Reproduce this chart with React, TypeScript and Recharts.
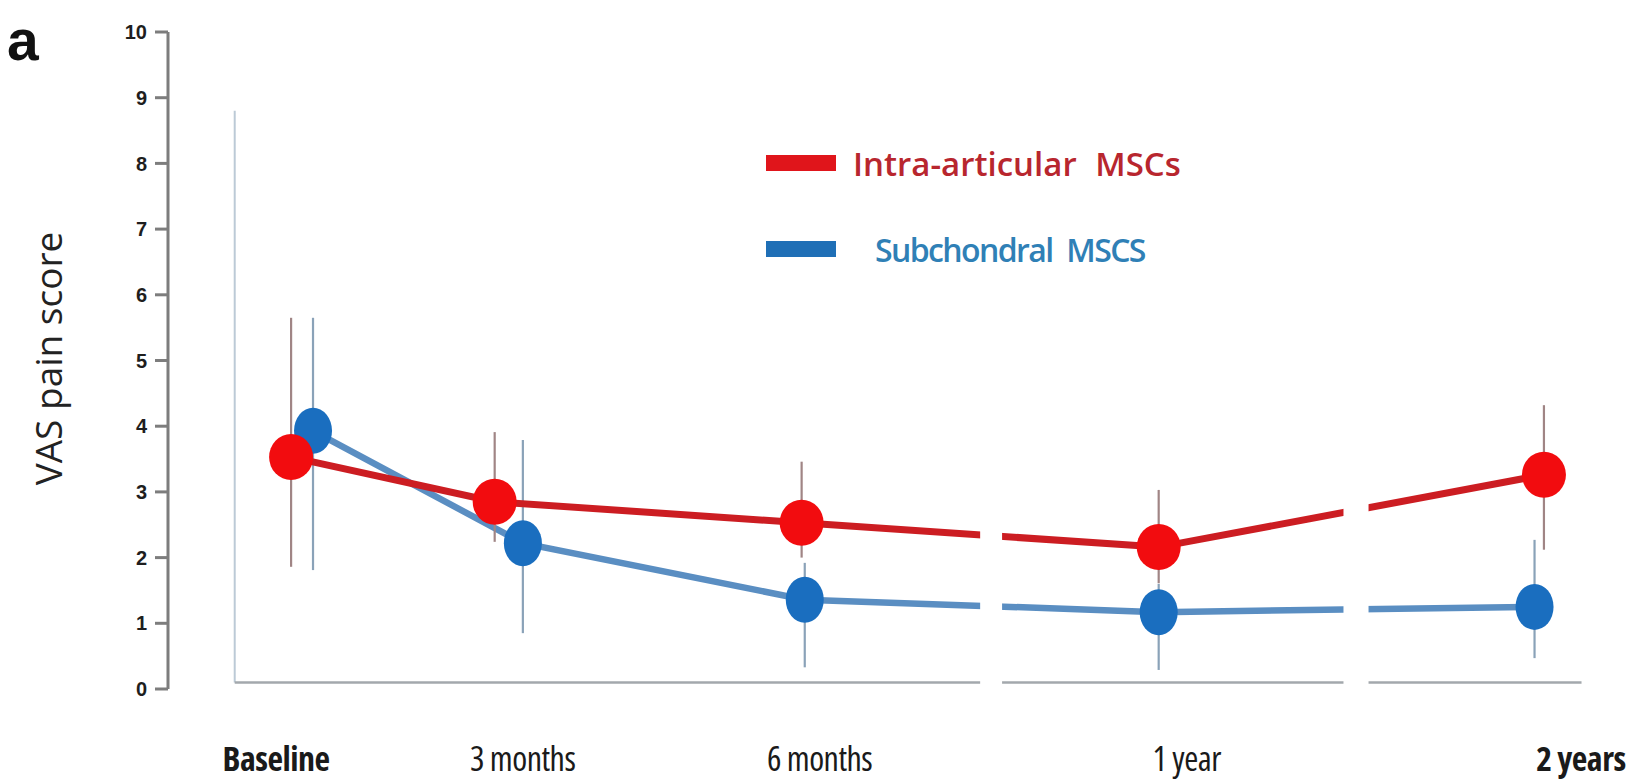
import React from 'react';
import {
  ComposedChart,
  Line,
  XAxis,
  YAxis,
  ErrorBar,
  ReferenceLine,
  ReferenceArea,
  Legend,
} from 'recharts';

// ---------------- data ----------------
const categories = ['Baseline', '3 months', '6 months', '1 year', '2 years'];
const boldCategories = ['Baseline', '2 years'];
const seriesNames = ['Intra-articular MSCs', 'Subchondral MSCS'];

// position of each time point on the (broken) time axis
const intraX = [0, 0.65, 1.63, 2.77, 4.0];
const subX = [0.07, 0.74, 1.64, 2.77, 3.97];

const intraMean = [3.53, 2.85, 2.53, 2.16, 3.26];
const intraLow = [1.86, 2.24, 2.0, 1.61, 2.12];
const intraHigh = [5.65, 3.91, 3.46, 3.03, 4.32];

const subMean = [3.93, 2.22, 1.36, 1.17, 1.25];
const subLow = [1.81, 0.85, 0.33, 0.29, 0.47];
const subHigh = [5.65, 3.79, 1.92, 1.6, 2.27];

const yTicks = [0, 1, 2, 3, 4, 5, 6, 7, 8, 9, 10];

// axis breaks (in time-axis units)
const axisBreaks: [number, number][] = [
  [2.2, 2.27],
  [3.36, 3.44],
];

// ---------------- styling constants ----------------
const X_DOMAIN: [number, number] = [-0.393, 4.179];
const FRAME_LEFT = -0.18;
const FRAME_RIGHT = 4.12;
const FRAME_TOP = 8.8;
const FRAME_BASE = 0.1;
const LABEL_SHIFT = [-15, 28, 18, 28, 37];

const RED_LINE = '#cc1d22';
const RED_DOT = '#f20c0f';
const RED_BAR = '#a08585';
const BLUE_LINE = '#5a8ec2';
const BLUE_DOT = '#1a6ebf';
const BLUE_BAR = '#8aa2b8';

const seriesStyle: Record<string, { bar: string; text: string; indent: number; fs: number; ls: number; ws: number }> = {
  'Intra-articular MSCs': { bar: '#e0151b', text: '#b8262e', indent: 0, fs: 33, ls: 0, ws: 10 },
  'Subchondral MSCS': { bar: '#1f6fb6', text: '#2f80b6', indent: 22, fs: 32, ls: -1.6, ws: 7 },
};

const build = (xs: number[], mean: number[], low: number[], high: number[]) =>
  categories.map((c, i) => ({
    name: c,
    x: xs[i],
    y: mean[i],
    err: [+(mean[i] - low[i]).toFixed(3), +(high[i] - mean[i]).toFixed(3)],
  }));

const intraData = build(intraX, intraMean, intraLow, intraHigh);
const subData = build(subX, subMean, subLow, subHigh);

const XTick = (props: any) => {
  const { x, y, payload } = props;
  const idx = intraX.indexOf(payload.value);
  const label = categories[idx] ?? '';
  const bold = boldCategories.includes(label);
  return (
    <text
      x={x + (LABEL_SHIFT[idx] ?? 0)}
      y={y + 82}
      textAnchor="middle"
      fontFamily="Open Sans"
      fontSize={34}
      fontWeight={bold ? 700 : 500}
      fill="#1a1a1a"
      style={{ fontStretch: 'semi-condensed', letterSpacing: '-0.5px' }}
    >
      {label}
    </text>
  );
};

const YTitle = (props: any) => {
  const vb = props.viewBox || { y: 32, height: 657 };
  const cy = vb.y + vb.height / 2 - 2;
  const cx = 47;
  return (
    <text
      x={cx}
      y={cy}
      transform={`rotate(-90, ${cx}, ${cy})`}
      textAnchor="middle"
      dominantBaseline="central"
      fontFamily="Open Sans"
      fontSize={37}
      fill="#222"
    >
      VAS pain score
    </text>
  );
};

const makeDot = (fill: string, rx: number, ry: number) => (p: any) => {
  if (p.cx == null || p.cy == null) return <g key={`n${p.index}`} />;
  return <ellipse key={`d${p.index}`} cx={p.cx} cy={p.cy} rx={rx} ry={ry} fill={fill} />;
};

const LegendBox = () => (
  <div style={{ fontFamily: 'Open Sans' }}>
    {seriesNames.map((n) => {
      const s = seriesStyle[n];
      return (
        <div key={n} style={{ display: 'flex', alignItems: 'center', height: 86 }}>
          <div style={{ width: 70, height: 16, background: s.bar }} />
          <div
            style={{
              marginLeft: 17 + s.indent,
              color: s.text,
              fontSize: s.fs,
              fontWeight: 600,
              letterSpacing: s.ls,
              wordSpacing: s.ws,
              whiteSpace: 'nowrap',
            }}
          >
            {n}
          </div>
        </div>
      );
    })}
  </div>
);

export default function App() {
  return (
    <div style={{ position: 'absolute', left: 0, top: 0, width: 1650, height: 783, background: '#fff' }}>
      <div
        style={{
          position: 'absolute',
          left: 7,
          top: 12,
          fontFamily: 'Liberation Sans',
          fontWeight: 700,
          fontSize: 57,
          lineHeight: '57px',
          color: '#111',
          zIndex: 2,
        }}
      >
        a
      </div>
      <ComposedChart
        width={1650}
        height={783}
        margin={{ top: 32, right: 50, bottom: 64, left: 100 }}
      >
        <XAxis
          type="number"
          dataKey="x"
          domain={X_DOMAIN}
          allowDataOverflow
          ticks={intraX}
          interval={0}
          tick={<XTick />}
          axisLine={false}
          tickLine={false}
          tickSize={0}
          tickMargin={0}
          height={30}
        />
        <YAxis
          type="number"
          domain={[0, 10]}
          ticks={yTicks}
          interval={0}
          width={68}
          tickSize={13}
          tickMargin={8}
          axisLine={{ stroke: '#7d7d7d', strokeWidth: 3 }}
          tickLine={{ stroke: '#7d7d7d', strokeWidth: 3 }}
          tick={{ fontSize: 20, fontWeight: 700, fill: '#1e1e1e', fontFamily: 'Liberation Sans' }}
          label={{ value: 'VAS pain score', content: YTitle }}
        />
        <ReferenceLine
          segment={[
            { x: FRAME_LEFT, y: FRAME_BASE },
            { x: FRAME_LEFT, y: FRAME_TOP },
          ]}
          stroke="#bccad6"
          strokeWidth={2}
        />
        <ReferenceLine
          segment={[
            { x: FRAME_LEFT, y: FRAME_BASE },
            { x: FRAME_RIGHT, y: FRAME_BASE },
          ]}
          stroke="#a3a8ad"
          strokeWidth={2.5}
        />
        <Line
          name={seriesNames[1]}
          data={subData}
          dataKey="y"
          type="linear"
          stroke={BLUE_LINE}
          strokeWidth={6.5}
          dot={makeDot(BLUE_DOT, 19, 23)}
          activeDot={false}
          isAnimationActive={false}
        >
          <ErrorBar dataKey="err" direction="y" width={0} stroke={BLUE_BAR} strokeWidth={2.2} />
        </Line>
        <Line
          name={seriesNames[0]}
          data={intraData}
          dataKey="y"
          type="linear"
          stroke={RED_LINE}
          strokeWidth={7}
          dot={makeDot(RED_DOT, 22, 23)}
          activeDot={false}
          isAnimationActive={false}
        >
          <ErrorBar dataKey="err" direction="y" width={0} stroke={RED_BAR} strokeWidth={2.2} />
        </Line>
        {axisBreaks.map((b, i) => (
          <ReferenceArea
            key={`brk${i}`}
            x1={b[0]}
            x2={b[1]}
            y1={0}
            y2={FRAME_TOP}
            fill="#ffffff"
            fillOpacity={1}
            stroke="none"
            zIndex={1500}
          />
        ))}
        <Legend
          layout="vertical"
          align="center"
          verticalAlign="middle"
          wrapperStyle={{ left: 766, top: 120, width: 620 }}
          content={() => <LegendBox />}
        />
      </ComposedChart>
    </div>
  );
}
